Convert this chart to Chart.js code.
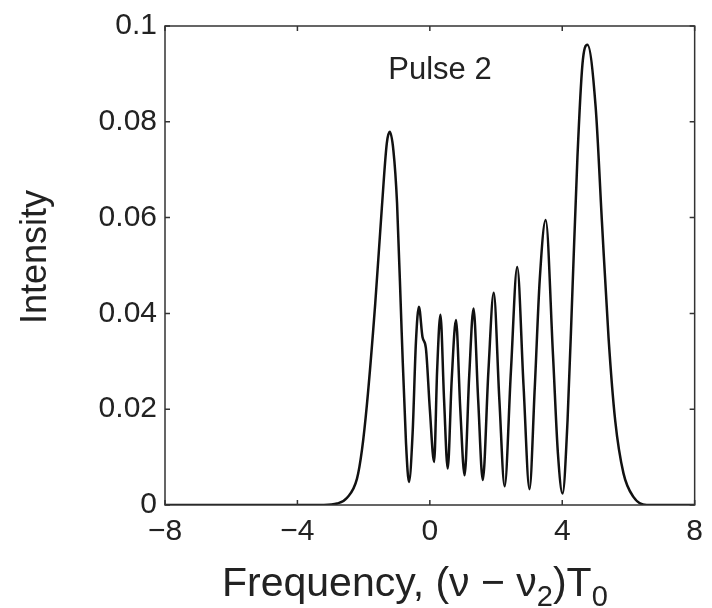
<!DOCTYPE html>
<html>
<head>
<meta charset="utf-8">
<script src="https://cdn.jsdelivr.net/npm/chart.js@4/dist/chart.umd.min.js"></script>
<style>
  html, body { margin: 0; padding: 0; background: #fff; }
  #wrap { width: 712px; height: 608px; }
</style>
</head>
<body>
<div id="wrap"><canvas id="spectrum" width="712" height="608"></canvas></div>
<script>
// spectrum of pulse 2
const freq = [
  -8, -3.2, -2.8, -2.5, -2.2, -2.05, -1.9, -1.65, -1.45, -1.3, -1.21, -1.1, -0.99, -0.85, -0.72, -0.63,
  -0.52, -0.42, -0.33, -0.22, -0.12, 0.0, 0.13, 0.22, 0.32, 0.43, 0.54, 0.66, 0.79, 0.92, 1.05,
  1.19, 1.32, 1.46, 1.60, 1.77, 1.93, 2.10, 2.26, 2.45, 2.64, 2.83, 3.01, 3.17, 3.32, 3.5,
  3.72, 3.87, 4.01, 4.16, 4.31, 4.46, 4.61, 4.76, 5.01, 5.2, 5.4, 5.6, 5.85, 6.15, 6.55, 7, 8
];
const intensity = [
  0, 0, 0.0003, 0.0015, 0.0055, 0.0115, 0.021, 0.042, 0.062, 0.0755, 0.0779, 0.074, 0.063, 0.036, 0.013, 0.0048,
  0.015, 0.034, 0.0414, 0.035, 0.0328, 0.02, 0.009, 0.028, 0.0397, 0.022, 0.0076, 0.026, 0.0386, 0.02, 0.0062,
  0.027, 0.041, 0.022, 0.0052, 0.028, 0.0443, 0.022, 0.0039, 0.028, 0.0497, 0.025, 0.0033, 0.0245, 0.047, 0.0595,
  0.0314, 0.0107, 0.0024, 0.0176, 0.0452, 0.0728, 0.092, 0.0961, 0.083, 0.059, 0.0348, 0.0176, 0.0066, 0.0017, 0, 0, 0
];
const xTicks = [-8, -4, 0, 4, 8];
const yTicks = [0, 0.02, 0.04, 0.06, 0.08, 0.1];

const ink = '#222';
const fam = '"Liberation Sans", Arial, sans-serif';

// MATLAB style box with inward ticks, plus the label inside and the x title with subscripts
const frame = {
  id: 'frame',
  afterDraw(chart) {
    const { ctx, chartArea: a, scales: { x, y } } = chart;
    ctx.save();
    ctx.strokeStyle = '#333';
    ctx.lineWidth = 1.5;
    ctx.strokeRect(a.left, a.top, a.right - a.left, a.bottom - a.top);
    ctx.beginPath();
    xTicks.forEach(v => {
      const px = x.getPixelForValue(v);
      ctx.moveTo(px, a.bottom); ctx.lineTo(px, a.bottom - 5);
      ctx.moveTo(px, a.top); ctx.lineTo(px, a.top + 5);
    });
    yTicks.forEach(v => {
      const py = y.getPixelForValue(v);
      ctx.moveTo(a.left, py); ctx.lineTo(a.left + 5, py);
      ctx.moveTo(a.right, py); ctx.lineTo(a.right - 5, py);
    });
    ctx.stroke();

    ctx.fillStyle = ink;
    ctx.textBaseline = 'alphabetic';
    ctx.textAlign = 'center';
    ctx.font = '31px ' + fam;
    ctx.fillText('Pulse 2', 440, 79);

    // y title, drawn here so it can sit where the reference has it
    ctx.save();
    ctx.translate(36, 257);
    ctx.rotate(-Math.PI / 2);
    ctx.textBaseline = 'middle';
    ctx.font = '36px ' + fam;
    ctx.fillText('Intensity', 0, 0);
    ctx.restore();

    // Frequency, (ν − ν2)T0
    const parts = [
      ['Frequency, (\u03bd \u2212 \u03bd', false], ['2', true], [')T', false], ['0', true]
    ];
    ctx.textAlign = 'left';
    let cx = 222;
    const base = 596;
    parts.forEach(([t, sub]) => {
      ctx.font = (sub ? '29px ' : '41px ') + fam;
      ctx.fillText(t, cx, sub ? base + 10 : base);
      cx += ctx.measureText(t).width;
    });
    ctx.restore();
  }
};

new Chart(document.getElementById('spectrum'), {
  type: 'line',
  data: {
    datasets: [{
      label: 'Pulse 2',
      data: freq.map((f, i) => ({ x: f, y: intensity[i] })),
      borderColor: '#111',
      borderWidth: 2.5,
      pointRadius: 0,
      fill: false,
      cubicInterpolationMode: 'monotone'
    }]
  },
  options: {
    responsive: false,
    animation: false,
    layout: { padding: { left: 0, right: 9, top: 22, bottom: 0 } },
    plugins: { legend: { display: false }, tooltip: { enabled: false } },
    scales: {
      x: {
        type: 'linear',
        min: -8, max: 8,
        afterBuildTicks: s => { s.ticks = xTicks.map(v => ({ value: v })); },
        afterFit: s => { s.height = 103; },
        grid: { display: false, drawTicks: false },
        border: { display: false },
        ticks: {
          padding: 9,
          color: ink,
          font: { family: fam, size: 30 },
          maxRotation: 0,
          callback: v => String(v).replace('-', '\u2212')
        }
      },
      y: {
        min: 0, max: 0.1,
        afterBuildTicks: s => { s.ticks = yTicks.map(v => ({ value: v })); },
        afterFit: s => { s.width = 165; },
        grid: { display: false, drawTicks: false },
        border: { display: false },
        ticks: {
          padding: 8,
          color: ink,
          font: { family: fam, size: 30 },
          callback: v => String(+v.toFixed(2))
        }
      }
    }
  },
  plugins: [frame]
});
</script>
</body>
</html>
